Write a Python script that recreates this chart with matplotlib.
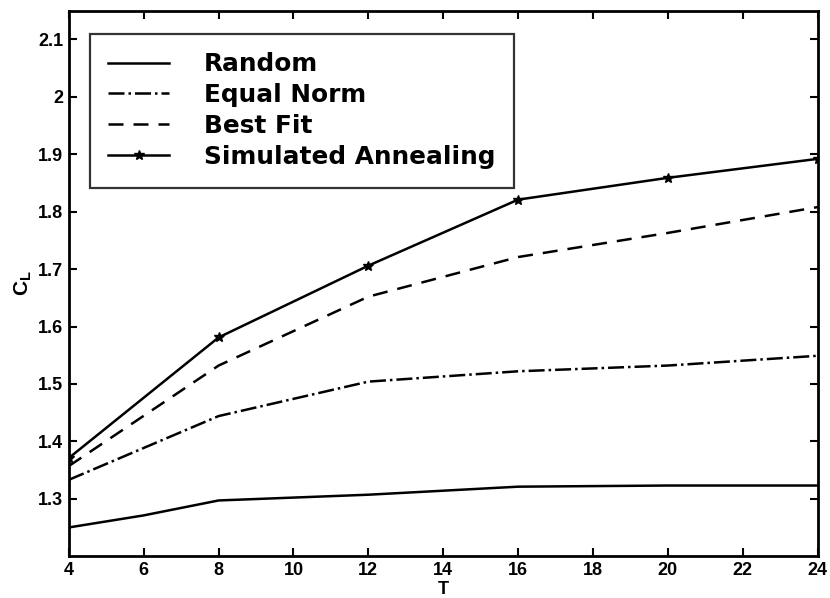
import matplotlib.pyplot as plt

# T values and C_L for each assignment method
t_vals = [4, 8, 12, 16, 20, 24]
t_random = [4, 6, 8, 12, 16, 20, 24]
random_cl = [1.250, 1.271, 1.297, 1.307, 1.321, 1.323, 1.323]
equal_norm = [1.333, 1.444, 1.504, 1.522, 1.532, 1.549]
best_fit = [1.357, 1.532, 1.652, 1.721, 1.763, 1.808]
sim_anneal = [1.371, 1.581, 1.706, 1.821, 1.859, 1.892]

x_ticks = [4, 6, 8, 10, 12, 14, 16, 18, 20, 22, 24]
y_ticks = [1.3, 1.4, 1.5, 1.6, 1.7, 1.8, 1.9, 2.0, 2.1]
y_tick_labels = ['1.3', '1.4', '1.5', '1.6', '1.7', '1.8', '1.9', '2', '2.1']

plt.rcParams['font.family'] = ['Liberation Sans', 'DejaVu Sans']

fig = plt.figure(figsize=(8.3, 5.98), dpi=100)
ax = fig.add_axes([0.083, 0.070, 0.902, 0.912])

lw = 1.8
ax.plot(t_random, random_cl, '-', color='black', lw=lw, label='Random')
ax.plot(t_vals, equal_norm, '-.', color='black', lw=lw, label='Equal Norm')
ax.plot(t_vals, best_fit, '--', color='black', lw=lw, dashes=(6, 4),
        label='Best Fit')
ax.plot(t_vals, sim_anneal, '-', color='black', lw=lw, marker='*',
        markersize=7, label='Simulated Annealing')

ax.set_xlim(4, 24)
ax.set_ylim(1.2, 2.15)
ax.set_xticks(x_ticks)
ax.set_yticks(y_ticks)
ax.set_yticklabels(y_tick_labels)
ax.tick_params(direction='in', length=6, width=1.5, top=True, right=True,
               labelsize=13, pad=4)
for lab in ax.get_xticklabels() + ax.get_yticklabels():
    lab.set_fontweight('bold')
for sp in ax.spines.values():
    sp.set_linewidth(2)

ax.set_xlabel('T', fontsize=13, fontweight='bold', labelpad=2)
ax.set_ylabel(r'$\mathdefault{C_L}$', fontsize=15, fontweight='bold',
              labelpad=3)

leg = ax.legend(loc='upper left', bbox_to_anchor=(0.028, 0.958),
                prop={'family': 'DejaVu Sans', 'weight': 'bold', 'size': 17.8},
                frameon=True, fancybox=False, edgecolor='black',
                handlelength=2.45, handletextpad=1.42, labelspacing=0.28,
                borderpad=0.75, borderaxespad=0)
leg.get_frame().set_linewidth(1.6)

fig.savefig('out.png', dpi=100)
